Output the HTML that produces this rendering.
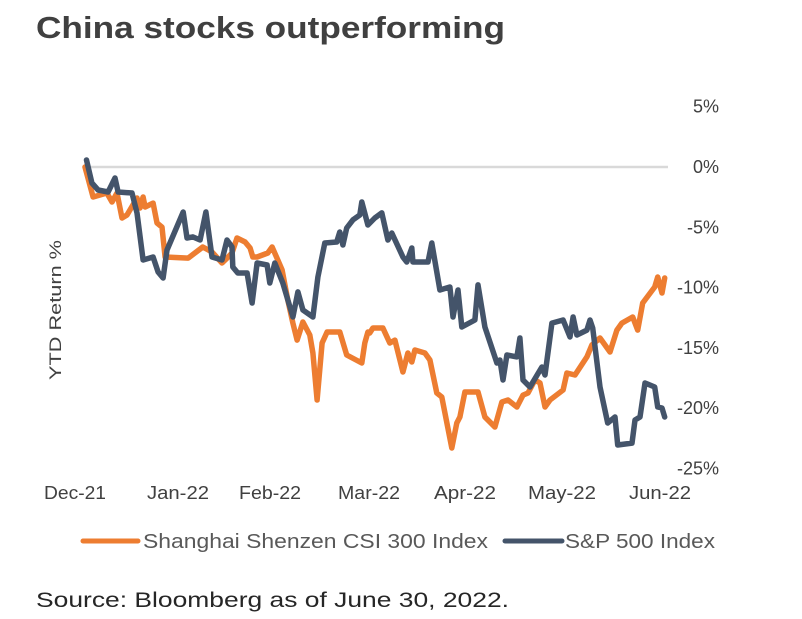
<!DOCTYPE html>
<html><head><meta charset="utf-8"><style>
body{margin:0;background:#fff;}
svg{display:block;font-family:"Liberation Sans",sans-serif;}
</style></head><body>
<svg width="802" height="619" viewBox="0 0 802 619">
<text x="36" y="38" font-size="31" font-weight="bold" fill="#404040" textLength="469" lengthAdjust="spacingAndGlyphs">China stocks outperforming</text>
<line x1="85" y1="167" x2="668" y2="167" stroke="#d9d9d9" stroke-width="2.5"/>
<g id="yticks"></g>
<g id="xticks"></g>
<text transform="translate(61,310) rotate(-90)" text-anchor="middle" font-size="17" fill="#404040" textLength="140" lengthAdjust="spacingAndGlyphs">YTD Return %</text>
<g id="series"></g>
<g>
<line x1="83" y1="541" x2="138" y2="541" stroke="#ED7D31" stroke-width="5" stroke-linecap="round"/>
<text x="143" y="548" font-size="20" fill="#595959" textLength="345" lengthAdjust="spacingAndGlyphs">Shanghai Shenzen CSI 300 Index</text>
<line x1="505" y1="541" x2="562" y2="541" stroke="#44546A" stroke-width="5" stroke-linecap="round"/>
<text x="565" y="548" font-size="20" fill="#595959" textLength="150" lengthAdjust="spacingAndGlyphs">S&amp;P 500 Index</text>
</g>
<text x="36" y="607" font-size="21" fill="#262626" textLength="473" lengthAdjust="spacingAndGlyphs">Source: Bloomberg as of June 30, 2022.</text>
</svg>
<script>
const yTickValues=[5,0,-5,-10,-15,-20,-25];
const xTickLabels=["Dec-21","Jan-22","Feb-22","Mar-22","Apr-22","May-22","Jun-22"];
const spDays=[3,4.4,6,8.6,10.4,11.2,14.8,16.1,17.7,20.3,21.6,22.9,23.9,28.1,29.1,30.6,32.5,34,35.6,38.2,39.5,40.8,41,42.3,44.7,46,47.3,49.9,50.6,51.9,54,56.6,57.9,59.2,61.8,63.1,64.9,68,68.8,69.6,70.6,72.2,74,74.5,76.1,77.9,79.7,81.3,82.3,85.2,86.2,87.5,87.8,91.7,92.7,94.8,97.4,98.2,99.5,100.5,103.9,104.7,106.5,109.6,110.4,111.2,112.2,114.8,115.6,116.4,118.2,121.3,122.1,123.9,126.8,128.6,129.4,130.4,133,133.8,134.5,136.4,138.4,140.3,141,144.7,145.5,146.8,148.1,150.6,151.4,152.5,153.2];
const spValues=[0.58,-1.33,-1.91,-2.07,-0.91,-2.07,-2.16,-3.81,-7.71,-7.46,-8.71,-9.2,-6.88,-3.73,-5.89,-5.8,-6.05,-3.73,-7.46,-7.71,-6.05,-6.63,-8.29,-8.79,-8.79,-11.28,-7.96,-8.13,-9.62,-7.96,-9.62,-12.44,-10.36,-11.86,-12.44,-9.12,-6.3,-6.22,-5.39,-6.47,-5.06,-4.39,-3.98,-2.9,-4.81,-4.23,-3.81,-6.05,-5.47,-7.46,-7.88,-6.72,-7.88,-7.88,-6.3,-10.2,-9.95,-12.44,-10.2,-13.27,-12.69,-9.78,-13.27,-16.25,-16,-17.66,-15.59,-15.75,-14.18,-17.66,-18.24,-16.58,-17.25,-12.94,-12.69,-14.1,-12.44,-13.93,-13.52,-12.69,-13.35,-18.24,-21.23,-20.73,-23.05,-22.89,-20.98,-20.73,-17.91,-18.24,-19.9,-19.98,-20.73];
const csiDays=[2.6,4.7,8.3,9.6,10.9,12.2,13.5,16.1,16.9,17.7,18.2,20.3,21.3,22.6,23.4,29.4,33.2,35.6,38.2,39.5,40.8,42.1,44.2,45.5,46.2,47.3,50.1,51.2,52.7,53.8,55.3,56.6,57.7,59.2,61,61.8,62.9,64.2,65.5,68.8,70.6,74.5,75.3,76.1,76.6,77.4,80,81.8,83.1,85.2,86.5,87.5,88.3,90.9,92.2,94,95.3,97.9,99.2,100,101.3,104.7,106.5,109.1,110.9,112.5,114.8,116.4,117.7,119.5,120.8,122.1,123.4,126.8,127.8,129.9,133,134.3,136.4,139,140.8,142.1,144.9,146.2,147.5,150.6,151.4,152.5,153.2];
const csiValues=[0,-2.49,-2.16,-2.9,-2.16,-4.23,-3.98,-2.57,-3.4,-2.49,-3.32,-2.99,-4.64,-4.98,-7.46,-7.55,-6.63,-7.05,-7.96,-7.55,-7.13,-5.89,-6.22,-6.72,-7.46,-7.46,-7.13,-6.63,-7.71,-8.54,-11.03,-12.94,-14.35,-12.85,-13.93,-15.42,-19.32,-14.59,-13.68,-13.68,-15.59,-16.25,-14.59,-13.68,-13.76,-13.35,-13.35,-14.59,-14.35,-17,-15.42,-16.17,-15.17,-15.42,-16,-18.74,-19.07,-23.3,-21.23,-20.73,-18.66,-18.66,-20.73,-21.56,-19.49,-19.32,-19.9,-18.91,-18.74,-17.66,-17.91,-19.9,-19.32,-18.49,-17.08,-17.25,-15.75,-14.76,-14.18,-15.34,-13.52,-12.94,-12.44,-13.52,-11.28,-9.95,-9.12,-10.45,-9.2];

const NS="http://www.w3.org/2000/svg";
function xDay(d){return 75+d*3.849;}
function yVal(v){return 167-v*12.06;}
function xMonth(i){return [75,178,270,369,465,562,660][i];}

const yt=document.getElementById('yticks');
yTickValues.forEach(v=>{
  const t=document.createElementNS(NS,'text');
  t.setAttribute('x',719);t.setAttribute('y',yVal(v)+6);
  t.setAttribute('text-anchor','end');t.setAttribute('font-size','18');t.setAttribute('fill','#404040');
  t.textContent=v+'%';
  
  
  yt.appendChild(t);
});
const xt=document.getElementById('xticks');
xTickLabels.forEach((l,i)=>{
  const t=document.createElementNS(NS,'text');
  t.setAttribute('x',xMonth(i));t.setAttribute('y',499);
  t.setAttribute('text-anchor','middle');t.setAttribute('font-size','18');t.setAttribute('fill','#404040');
  t.setAttribute('textLength', l.startsWith('May')?68:62);
  t.setAttribute('lengthAdjust','spacingAndGlyphs');
  t.textContent=l;
  
  
  xt.appendChild(t);
});
const sg=document.getElementById('series');
function line(days,vals,color,name){
  const p=document.createElementNS(NS,'polyline');
  p.setAttribute('points',days.map((d,i)=>xDay(d).toFixed(1)+','+yVal(vals[i]).toFixed(1)).join(' '));
  p.setAttribute('fill','none');p.setAttribute('stroke',color);p.setAttribute('stroke-width','5.5');
  p.setAttribute('stroke-linejoin','round');p.setAttribute('stroke-linecap','round');
  
  
  sg.appendChild(p);
}
line(csiDays,csiValues,'#ED7D31','csi300-line');
line(spDays,spValues,'#44546A','sp500-line');
</script>
</body></html>
